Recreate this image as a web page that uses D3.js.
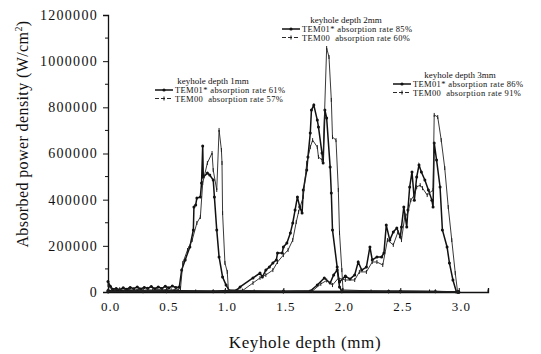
<!DOCTYPE html>
<html>
<head>
<meta charset="utf-8">
<script src="https://cdn.jsdelivr.net/npm/d3@7"></script>
<style>
body { margin: 0; background: #fff; }
text { font-family: "Liberation Serif", "DejaVu Serif", serif; fill: #111; }
</style>
</head>
<body>
<div id="chart"></div>
<script>
// values: [depth (mm), absorbed power density (W/cm2)]
var tem01_1mm = [[0,45000],[0.02,25000],[0.04,12000],[0.07,15000],[0.10,10000],[0.13,18000],[0.16,12000],[0.19,20000],[0.22,14000],[0.25,22000],[0.28,13000],[0.31,20000],[0.34,16000],[0.37,24000],[0.40,14000],[0.43,22000],[0.46,15000],[0.49,25000],[0.52,18000],[0.55,26000],[0.58,20000],[0.61,22000],[0.63,95000],[0.66,139000],[0.70,195000],[0.73,269000],[0.735,368000],[0.75,377000],[0.76,407000],[0.79,412000],[0.80,472000],[0.81,632000],[0.815,498000],[0.85,515000],[0.87,507000],[0.90,485000],[0.91,412000],[0.93,269000],[0.95,152000],[0.98,65000],[1.01,30000],[1.04,4000],[1.5,3000],[2.0,2000],[2.5,3000],[3.0,0]];
var tem00_1mm = [[0,30000],[0.03,12000],[0.06,8000],[0.10,12000],[0.14,7000],[0.18,11000],[0.22,8000],[0.26,12000],[0.30,7000],[0.34,10000],[0.38,8000],[0.42,12000],[0.46,9000],[0.50,11000],[0.54,8000],[0.58,12000],[0.62,15000],[0.64,126000],[0.68,182000],[0.72,225000],[0.76,299000],[0.79,325000],[0.81,472000],[0.85,559000],[0.89,602000],[0.90,528000],[0.93,442000],[0.95,702000],[0.97,615000],[0.975,559000],[0.98,342000],[1.0,126000],[1.02,87000],[1.03,9000],[1.5,2000],[2.0,3000],[2.5,2000],[3.0,0]];
var tem01_2mm = [[0,6000],[0.3,4000],[0.6,5000],[0.9,3000],[1.1,8000],[1.13,22000],[1.24,61000],[1.30,82000],[1.32,65000],[1.35,95000],[1.38,108000],[1.41,126000],[1.44,139000],[1.45,169000],[1.49,169000],[1.50,195000],[1.53,212000],[1.56,256000],[1.58,299000],[1.60,355000],[1.62,412000],[1.64,368000],[1.66,342000],[1.67,442000],[1.70,528000],[1.71,585000],[1.73,689000],[1.74,788000],[1.76,810000],[1.79,745000],[1.80,715000],[1.83,602000],[1.84,559000],[1.855,788000],[1.87,754000],[1.90,541000],[1.91,429000],[1.92,269000],[1.96,108000],[1.98,22000],[2.0,3000],[2.4,3000],[2.8,2000],[3.0,0]];
var tem00_2mm = [[0,4000],[0.3,3000],[0.6,4000],[0.9,3000],[1.15,6000],[1.24,39000],[1.30,61000],[1.35,74000],[1.41,95000],[1.45,130000],[1.50,160000],[1.54,182000],[1.58,225000],[1.61,303000],[1.63,347000],[1.67,412000],[1.70,559000],[1.73,628000],[1.75,658000],[1.79,628000],[1.80,585000],[1.83,572000],[1.84,585000],[1.87,1057000],[1.89,1018000],[1.91,832000],[1.92,671000],[1.95,658000],[1.97,442000],[1.98,256000],[2.0,95000],[2.01,9000],[2.4,2000],[2.8,3000],[3.0,0]];
var tem01_3mm = [[0,3000],[0.5,2000],[1.0,3000],[1.5,2000],[1.73,4000],[1.79,30000],[1.85,61000],[1.90,39000],[1.93,74000],[1.96,95000],[1.98,43000],[2.03,69000],[2.07,56000],[2.11,74000],[2.14,130000],[2.17,95000],[2.21,108000],[2.24,195000],[2.26,139000],[2.30,152000],[2.34,152000],[2.36,169000],[2.38,290000],[2.41,225000],[2.44,260000],[2.47,277000],[2.50,238000],[2.51,282000],[2.53,368000],[2.555,282000],[2.565,355000],[2.58,455000],[2.60,520000],[2.62,398000],[2.64,498000],[2.66,550000],[2.68,520000],[2.71,485000],[2.74,442000],[2.77,398000],[2.78,368000],[2.79,645000],[2.81,572000],[2.84,455000],[2.86,269000],[2.90,195000],[2.92,126000],[2.95,52000],[2.98,0]];
var tem00_3mm = [[0,2000],[0.5,3000],[1.0,2000],[1.5,3000],[1.75,5000],[1.82,35000],[1.87,50000],[1.92,30000],[1.97,60000],[2.03,52000],[2.11,52000],[2.15,87000],[2.21,87000],[2.26,130000],[2.30,130000],[2.35,117000],[2.39,225000],[2.44,204000],[2.48,260000],[2.51,225000],[2.54,334000],[2.56,334000],[2.59,398000],[2.62,420000],[2.64,455000],[2.67,463000],[2.69,450000],[2.73,420000],[2.75,429000],[2.78,442000],[2.79,767000],[2.82,758000],[2.85,658000],[2.88,537000],[2.91,368000],[2.94,225000],[2.97,82000],[2.99,0]];

var xTicks = [0, 0.5, 1.0, 1.5, 2.0, 2.5, 3.0];
var yTicks = [0, 200000, 400000, 600000, 800000, 1000000, 1200000];
var legendTitles = ["keyhole depth 1mm", "keyhole depth 2mm", "keyhole depth 3mm"];
var legendTem01 = ["TEM01* absorption rate 61%", "TEM01* absorption rate 85%", "TEM01* absorption rate 86%"];
var legendTem00 = ["TEM00  absorption rate 57%", "TEM00  absorption rate 60%", "TEM00  absorption rate 91%"];

var width = 541;
var height = 354;

var svg = d3.select("#chart").append("svg")
    .attr("width", width)
    .attr("height", height);

var x = d3.scaleLinear().domain([0, 3.25]).range([108, 488]);
var y = d3.scaleLinear().domain([0, 1200000]).range([292, 15]);

// axes
var xAxis = d3.axisBottom(x).tickValues(xTicks).tickFormat(d3.format(".1f")).tickSize(-4).tickPadding(10);
var yAxis = d3.axisLeft(y).tickValues(yTicks).tickFormat(d3.format("d")).tickSize(5).tickPadding(5);

var gX = svg.append("g").attr("transform", "translate(0," + y(0) + ")").call(xAxis);
var gY = svg.append("g").attr("transform", "translate(" + x(0) + ",0)").call(yAxis);

// minor ticks
gX.selectAll(".minor").data(d3.range(0.25, 3.3, 0.5)).enter().append("line")
    .attr("x1", function(d) { return x(d); }).attr("x2", function(d) { return x(d); })
    .attr("y1", 0).attr("y2", -2.5).attr("stroke", "#111");
gY.selectAll(".minor").data(d3.range(100000, 1200000, 200000)).enter().append("line")
    .attr("y1", function(d) { return y(d); }).attr("y2", function(d) { return y(d); })
    .attr("x1", 0).attr("x2", -3).attr("stroke", "#111");

svg.selectAll(".domain").attr("stroke", "#111").attr("stroke-width", 1.3);
svg.selectAll(".tick line").attr("stroke", "#111");
gX.selectAll(".tick text").style("font-size", "13px").attr("letter-spacing", "1px").attr("dx", "2");
gY.selectAll(".tick text").style("font-size", "14px").attr("letter-spacing", "1.3px");

// axis titles
svg.append("text")
    .attr("x", 305).attr("y", 348)
    .attr("text-anchor", "middle")
    .style("font-size", "17px").attr("letter-spacing", "0.6px")
    .text("Keyhole depth (mm)");

var yt = svg.append("text")
    .attr("transform", "translate(28,134) rotate(-90)")
    .attr("text-anchor", "middle")
    .style("font-size", "16px").attr("letter-spacing", "0.4px");
yt.append("tspan").text("Absorbed power density (W/cm");
yt.append("tspan").attr("dy", -6).style("font-size", "10px").text("2");
yt.append("tspan").attr("dy", 6).text(")");

// curves
var line = d3.line()
    .x(function(d) { return x(d[0]); })
    .y(function(d) { return y(d[1]); });

function drawTem01(data) {
    svg.append("path").datum(data).attr("d", line)
        .attr("fill", "none").attr("stroke", "#111").attr("stroke-width", 1.5);
    svg.append("g").selectAll("circle").data(data).enter().append("circle")
        .attr("cx", function(d) { return x(d[0]); })
        .attr("cy", function(d) { return y(d[1]); })
        .attr("r", 1.5).attr("fill", "#111");
}

function drawTem00(data) {
    svg.append("path").datum(data).attr("d", line)
        .attr("fill", "none").attr("stroke", "#222").attr("stroke-width", 0.9);
    svg.append("g").selectAll("line").data(data).enter().append("line")
        .attr("x1", function(d) { return x(d[0]); })
        .attr("x2", function(d) { return x(d[0]); })
        .attr("y1", function(d) { return y(d[1]) - 2; })
        .attr("y2", function(d) { return y(d[1]) + 2; })
        .attr("stroke", "#222").attr("stroke-width", 1);
}

[tem01_1mm, tem01_2mm, tem01_3mm].forEach(drawTem01);
[tem00_1mm, tem00_2mm, tem00_3mm].forEach(drawTem00);

// legends (three separate blocks)
var legendPos = [
    {x: 155, y: 84, tx: 213},
    {x: 282, y: 23, tx: 346},
    {x: 393, y: 78, tx: 460}
];

legendPos.forEach(function(p, i) {
    var g = svg.append("g");
    g.append("text").attr("x", p.tx).attr("y", p.y).attr("text-anchor", "middle")
        .style("font-size", "9px").text(legendTitles[i]);
    var rows = [legendTem01[i], legendTem00[i]];
    rows.forEach(function(t, j) {
        var ry = p.y + 9 + j * 8.5;
        g.append("line").attr("x1", p.x).attr("x2", p.x + 18)
            .attr("y1", ry - 3).attr("y2", ry - 3)
            .attr("stroke", "#111").attr("stroke-width", j === 0 ? 1.5 : 0.9)
            .attr("stroke-dasharray", j === 0 ? null : "4,2");
        if (j === 0) {
            g.append("circle").attr("cx", p.x + 9).attr("cy", ry - 3).attr("r", 1.6).attr("fill", "#111");
        } else {
            g.append("line").attr("x1", p.x + 9).attr("x2", p.x + 9)
                .attr("y1", ry - 5).attr("y2", ry - 1).attr("stroke", "#111");
        }
        g.append("text").attr("x", p.x + 20).attr("y", ry)
            .style("font-size", "8.5px").attr("letter-spacing", "0.35px")
            .attr("xml:space", "preserve").style("white-space", "pre")
            .text(t);
    });
});
</script>
</body>
</html>
